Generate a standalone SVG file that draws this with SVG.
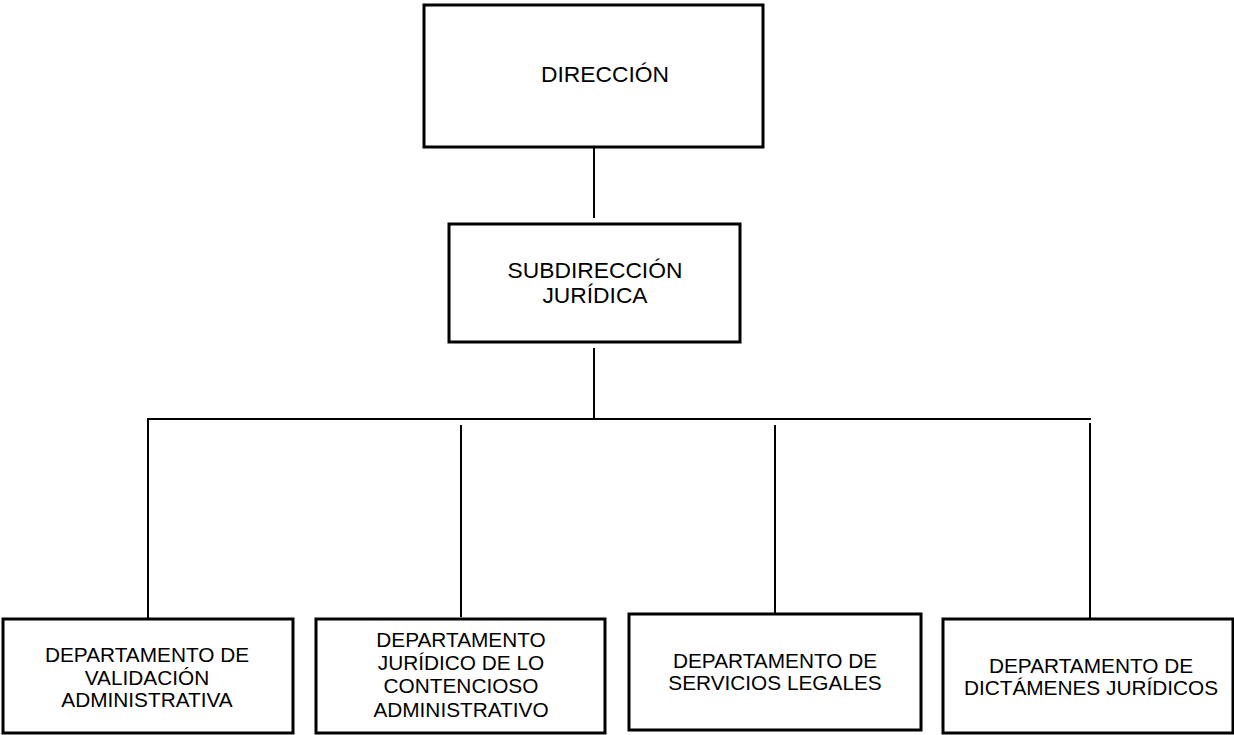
<svg xmlns="http://www.w3.org/2000/svg" width="1234" height="735" viewBox="0 0 1234 735">
<style>
.box{fill:#fff;stroke:#000;stroke-width:3}
.conn{stroke:#000;stroke-width:2;fill:none}
text{font-family:"Liberation Sans",Arial,sans-serif;fill:#000;text-anchor:middle}
.big{font-size:22.8px}
.dep{font-size:20.8px}
</style>
<rect width="1234" height="735" fill="#fff"/>
<g id="connectors">
<line class="conn" x1="594" y1="147" x2="594" y2="218"/>
<line class="conn" x1="594" y1="348" x2="594" y2="419"/>
<line class="conn" x1="147" y1="419" x2="1091" y2="419"/>
<line class="conn" x1="148" y1="418" x2="148" y2="618"/>
<line class="conn" x1="461" y1="425" x2="461" y2="617"/>
<line class="conn" x1="775" y1="425" x2="775" y2="613"/>
<line class="conn" x1="1090" y1="423" x2="1090" y2="618"/>
</g>
<g id="direccion">
<rect class="box" x="424" y="5" width="339" height="142"/>
<text class="big" x="605" y="82">DIRECCIÓN</text>
</g>
<g id="subdireccion">
<rect class="box" x="449" y="224" width="291" height="118"/>
<text class="big" x="595" y="278">SUBDIRECCIÓN</text>
<text class="big" x="595" y="303">JURÍDICA</text>
</g>
<g id="dep-validacion">
<rect class="box" x="3" y="619" width="290" height="114"/>
<text class="dep" x="147" y="662">DEPARTAMENTO DE</text>
<text class="dep" x="147" y="685">VALIDACIÓN</text>
<text class="dep" x="147" y="707">ADMINISTRATIVA</text>
</g>
<g id="dep-contencioso">
<rect class="box" x="316" y="619" width="289" height="114"/>
<text class="dep" x="461" y="647">DEPARTAMENTO</text>
<text class="dep" x="461" y="670">JURÍDICO DE LO</text>
<text class="dep" x="461" y="693">CONTENCIOSO</text>
<text class="dep" x="461" y="717">ADMINISTRATIVO</text>
</g>
<g id="dep-servicios">
<rect class="box" x="629" y="614" width="292" height="116"/>
<text class="dep" x="775" y="668">DEPARTAMENTO DE</text>
<text class="dep" x="775" y="690">SERVICIOS LEGALES</text>
</g>
<g id="dep-dictamenes">
<rect class="box" x="943" y="619" width="290" height="114"/>
<text class="dep" x="1091" y="673">DEPARTAMENTO DE</text>
<text class="dep" x="1091" y="695">DICTÁMENES JURÍDICOS</text>
</g>
</svg>
